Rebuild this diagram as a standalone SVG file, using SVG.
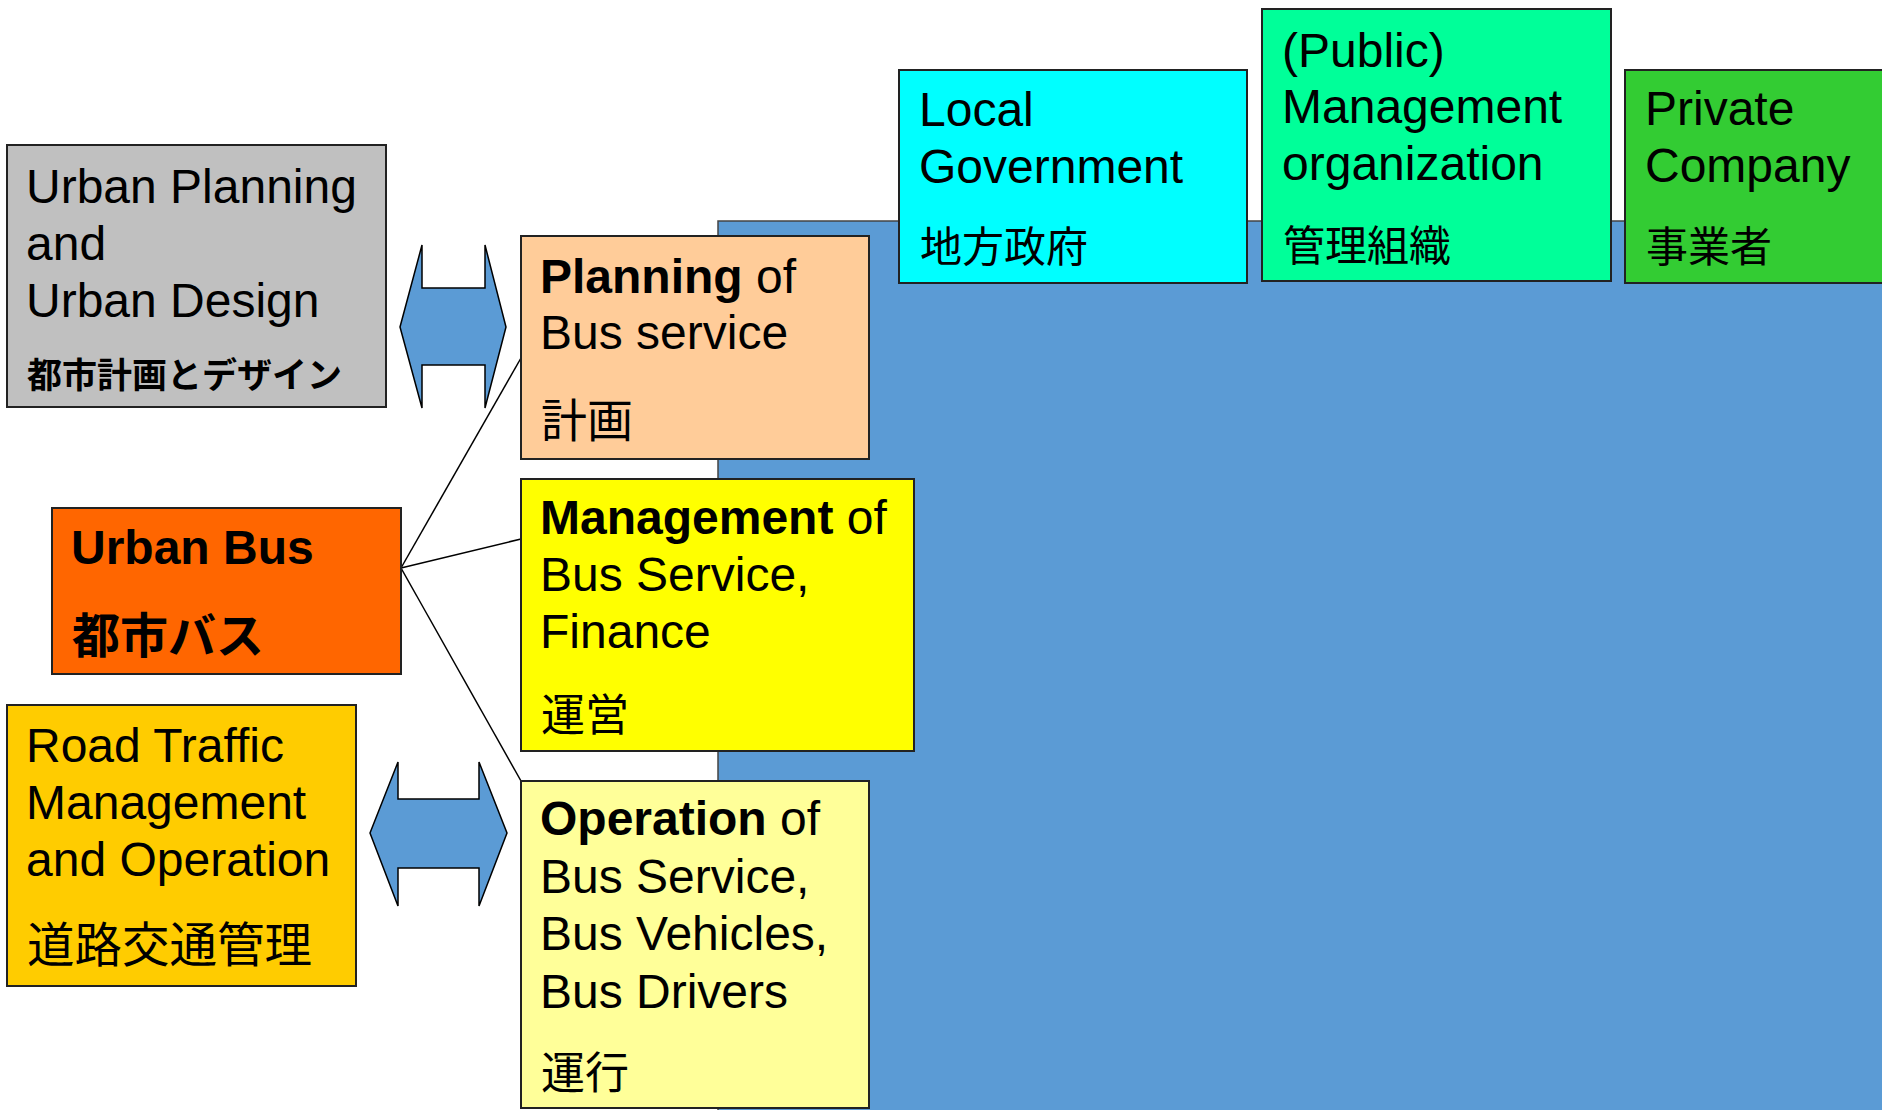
<svg xmlns="http://www.w3.org/2000/svg" width="1882" height="1110" viewBox="0 0 1882 1110">
<style>
.box{stroke:#222;stroke-width:2}
.t{font-family:"Liberation Sans",Arial,sans-serif;font-size:48px;fill:#000}
.j{font-family:"Noto Sans CJK JP","Liberation Sans",sans-serif;fill:#000}
.b{font-weight:bold}
.arr{fill:#5B9BD5;stroke:#000;stroke-width:1.5;stroke-linejoin:miter}
.ln{stroke:#000;stroke-width:1.5;fill:none}
</style>
<rect id="bg" x="718" y="221" width="1170" height="900" fill="#5B9BD5" stroke="#444" stroke-width="1.5"/>
<g id="connectors">
<line class="ln" x1="401" y1="568" x2="521" y2="358"/>
<line class="ln" x1="401" y1="568" x2="521" y2="539"/>
<line class="ln" x1="401" y1="568" x2="521" y2="781"/>
<polygon class="arr" points="400,327 422,245 422,288 485,288 485,245 506,327 485,408 485,365 422,365 422,408"/>
<polygon class="arr" points="370,833 398,762 398,799 479,799 479,762 507,833 479,906 479,868 398,868 398,906"/>
</g>
<g id="urban-planning">
<rect class="box" x="7" y="145" width="379" height="262" fill="#C0C0C0"/>
<text class="t" x="26" y="203">Urban Planning</text>
<text class="t" x="26" y="260">and</text>
<text class="t" x="26" y="317">Urban Design</text>
<text class="j b" x="27" y="388" font-size="35">都市計画とデザイン</text>
</g>
<g id="urban-bus">
<rect class="box" x="52" y="508" width="349" height="166" fill="#FF6600"/>
<text class="t b" x="71" y="564">Urban Bus</text>
<text class="j b" x="72" y="653" font-size="48">都市バス</text>
</g>
<g id="road-traffic">
<rect class="box" x="7" y="705" width="349" height="281" fill="#FFCC00"/>
<text class="t" x="26" y="762">Road Traffic</text>
<text class="t" x="26" y="819">Management</text>
<text class="t" x="26" y="876">and Operation</text>
<text class="j" x="27" y="962" font-size="47.5">道路交通管理</text>
</g>
<g id="planning">
<rect class="box" x="521" y="236" width="348" height="223" fill="#FFCC99"/>
<text class="t" x="540" y="293"><tspan class="b">Planning</tspan> of</text>
<text class="t" x="540" y="349">Bus service</text>
<text class="j" x="541" y="437" font-size="46">計画</text>
</g>
<g id="management">
<rect class="box" x="521" y="479" width="393" height="272" fill="#FFFF00"/>
<text class="t" x="540" y="534"><tspan class="b">Management</tspan> of</text>
<text class="t" x="540" y="591">Bus Service,</text>
<text class="t" x="540" y="648">Finance</text>
<text class="j" x="541" y="731" font-size="44">運営</text>
</g>
<g id="operation">
<rect class="box" x="521" y="781" width="348" height="327" fill="#FFFF99"/>
<text class="t" x="540" y="835"><tspan class="b">Operation</tspan> of</text>
<text class="t" x="540" y="893">Bus Service,</text>
<text class="t" x="540" y="950">Bus Vehicles,</text>
<text class="t" x="540" y="1008">Bus Drivers</text>
<text class="j" x="541" y="1089" font-size="44">運行</text>
</g>
<g id="local-government">
<rect class="box" x="899" y="70" width="348" height="213" fill="#00FFFF"/>
<text class="t" x="919" y="126">Local</text>
<text class="t" x="919" y="183">Government</text>
<text class="j" x="920" y="262" font-size="42">地方政府</text>
</g>
<g id="management-organization">
<rect class="box" x="1262" y="9" width="349" height="272" fill="#00FF99"/>
<text class="t" x="1282" y="67">(Public)</text>
<text class="t" x="1282" y="123">Management</text>
<text class="t" x="1282" y="180">organization</text>
<text class="j" x="1283" y="261" font-size="42">管理組織</text>
</g>
<g id="private-company">
<rect class="box" x="1625" y="70" width="270" height="213" fill="#33CC33"/>
<text class="t" x="1645" y="125">Private</text>
<text class="t" x="1645" y="182">Company</text>
<text class="j" x="1646" y="262" font-size="42">事業者</text>
</g>
</svg>
